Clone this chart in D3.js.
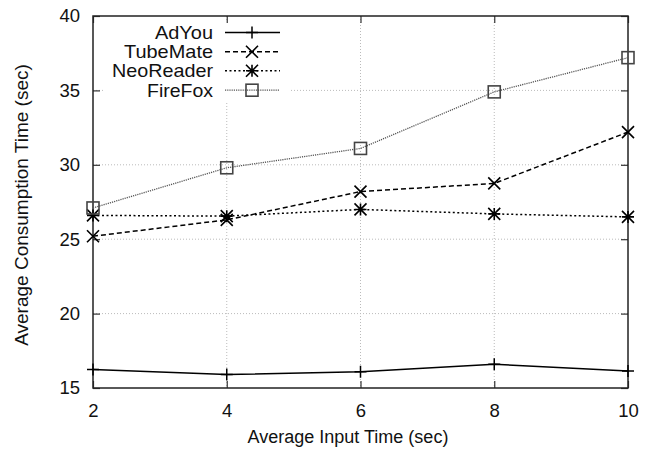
<!DOCTYPE html>
<html><head><meta charset="utf-8">
<script src="https://cdn.jsdelivr.net/npm/d3@7"></script>
<style>body{margin:0;background:#fff}svg{display:block}text{font-family:"Liberation Sans",Arial,sans-serif}</style>
</head><body><svg id="c" width="656" height="451"></svg>
<script>
const xValues = [2, 4, 6, 8, 10];
const seriesNames = ["AdYou", "TubeMate", "NeoReader", "FireFox"];
const adYou = [16.25, 15.9, 16.1, 16.6, 16.15];
const tubeMate = [25.2, 26.3, 28.2, 28.75, 32.2];
const neoReader = [26.6, 26.55, 27.0, 26.7, 26.5];
const fireFox = [27.1, 29.8, 31.1, 34.9, 37.2];
const xTicks = [2, 4, 6, 8, 10];
const yTicks = [15, 20, 25, 30, 35, 40];

const series = [
  {name: seriesNames[0], values: adYou, dash: null, color: "#000", marker: "plus", w: 1.5},
  {name: seriesNames[1], values: tubeMate, dash: "5,3", color: "#000", marker: "x", w: 1.5},
  {name: seriesNames[2], values: neoReader, dash: "2,2.5", color: "#000", marker: "star", w: 1.5},
  {name: seriesNames[3], values: fireFox, dash: "1.2,1", color: "#555", marker: "box", w: 1.3}
];
// rendered legend label widths (layout only)
const legWidths = {AdYou: 58, TubeMate: 89, NeoReader: 101, FireFox: 66};

const L = 93, R = 628, T = 16, B = 388;
const svg = d3.select("#c");
const x = d3.scaleLinear().domain([2, 10]).range([L, R]);
const y = d3.scaleLinear().domain([15, 40]).range([B, T]);

// grid
const grid = svg.append("g").attr("stroke", "#bbb").attr("stroke-width", 1).attr("stroke-dasharray", "1,2");
grid.selectAll(".gx").data(xTicks.slice(1, -1)).join("line")
  .attr("x1", d => x(d)).attr("x2", d => x(d)).attr("y1", T).attr("y2", B);
grid.selectAll(".gy").data(yTicks.slice(1, -1)).join("line")
  .attr("x1", L).attr("x2", R).attr("y1", d => y(d)).attr("y2", d => y(d));

// legend background (opaque)
svg.append("rect").attr("x", 104).attr("y", 21).attr("width", 186).attr("height", 80).attr("fill", "#fff");

// axes with inward ticks (mirrored)
const tk = 7;
const axB = svg.append("g").attr("transform", `translate(0,${B})`)
  .call(d3.axisBottom(x).tickValues(xTicks).tickSizeInner(-tk).tickSizeOuter(0).tickPadding(16).tickFormat(d3.format("d")));
const axT = svg.append("g").attr("transform", `translate(0,${T})`)
  .call(d3.axisTop(x).tickValues(xTicks).tickSizeInner(-tk).tickSizeOuter(0).tickFormat(""));
const axL = svg.append("g").attr("transform", `translate(${L},0)`)
  .call(d3.axisLeft(y).tickValues(yTicks).tickSizeInner(-tk).tickSizeOuter(0).tickPadding(13).tickFormat(d3.format("d")));
const axR = svg.append("g").attr("transform", `translate(${R},0)`)
  .call(d3.axisRight(y).tickValues(yTicks).tickSizeInner(-tk).tickSizeOuter(0).tickFormat(""));
[axB, axT, axL, axR].forEach(a => {
  a.select(".domain").remove();
  a.selectAll(".tick line").attr("stroke", "#333").attr("stroke-width", 1.2);
  a.selectAll("text").attr("font-size", 18.5).attr("fill", "#111").attr("font-family", "Liberation Sans, Arial, sans-serif");
});
svg.append("rect").attr("x", L).attr("y", T).attr("width", R - L).attr("height", B - T)
  .attr("fill", "none").attr("stroke", "#222").attr("stroke-width", 1.5);

// titles
svg.append("text").attr("x", 348).attr("y", 443).attr("text-anchor", "middle")
  .attr("font-size", 18).attr("fill", "#111").text("Average Input Time (sec)");
svg.append("text").attr("transform", `translate(28,${205}) rotate(-90)`).attr("text-anchor", "middle")
  .attr("font-size", 19).attr("fill", "#111").text("Average Consumption Time (sec)");

function drawMarker(g, type, cx, cy, color) {
  const s = 6;
  if (type === "plus") {
    g.append("path").attr("d", `M${cx - s},${cy}H${cx + s}M${cx},${cy - s}V${cy + s}`).attr("stroke", color).attr("stroke-width", 1.5).attr("fill", "none");
  } else if (type === "x") {
    g.append("path").attr("d", `M${cx - s},${cy - s}L${cx + s},${cy + s}M${cx - s},${cy + s}L${cx + s},${cy - s}`).attr("stroke", color).attr("stroke-width", 1.6).attr("fill", "none");
  } else if (type === "star") {
    g.append("path").attr("d", `M${cx - s},${cy - s}L${cx + s},${cy + s}M${cx - s},${cy + s}L${cx + s},${cy - s}M${cx - s},${cy}H${cx + s}M${cx},${cy - s}V${cy + s}`).attr("stroke", color).attr("stroke-width", 1.6).attr("fill", "none");
  } else if (type === "box") {
    g.append("rect").attr("x", cx - 6).attr("y", cy - 6).attr("width", 12).attr("height", 12).attr("stroke", "#444").attr("stroke-width", 1.6).attr("fill", "none");
  }
}

const line = d3.line().x((d, i) => x(xValues[i])).y(d => y(d));
series.forEach(s => {
  const g = svg.append("g");
  g.append("path").attr("d", line(s.values)).attr("fill", "none").attr("stroke", s.color)
    .attr("stroke-width", s.w).attr("stroke-dasharray", s.dash);
  s.values.forEach((v, i) => drawMarker(g, s.marker, x(xValues[i]), y(v), s.color));
});

// legend
const legBase = [39, 58.3, 77.3, 96.7];
series.forEach((s, i) => {
  const g = svg.append("g");
  const cy = legBase[i] - 6.5;
  const wdt = legWidths[s.name];
  g.append("text").attr("x", 213 - wdt).attr("y", legBase[i])
    .attr("font-size", 18.5).attr("fill", "#111")
    .attr("textLength", wdt).attr("lengthAdjust", "spacingAndGlyphs").text(s.name);
  g.append("line").attr("x1", 225).attr("x2", 280).attr("y1", cy).attr("y2", cy)
    .attr("stroke", s.color).attr("stroke-width", s.w).attr("stroke-dasharray", s.dash);
  drawMarker(g, s.marker, 252, cy, s.color);
});
</script></body></html>
